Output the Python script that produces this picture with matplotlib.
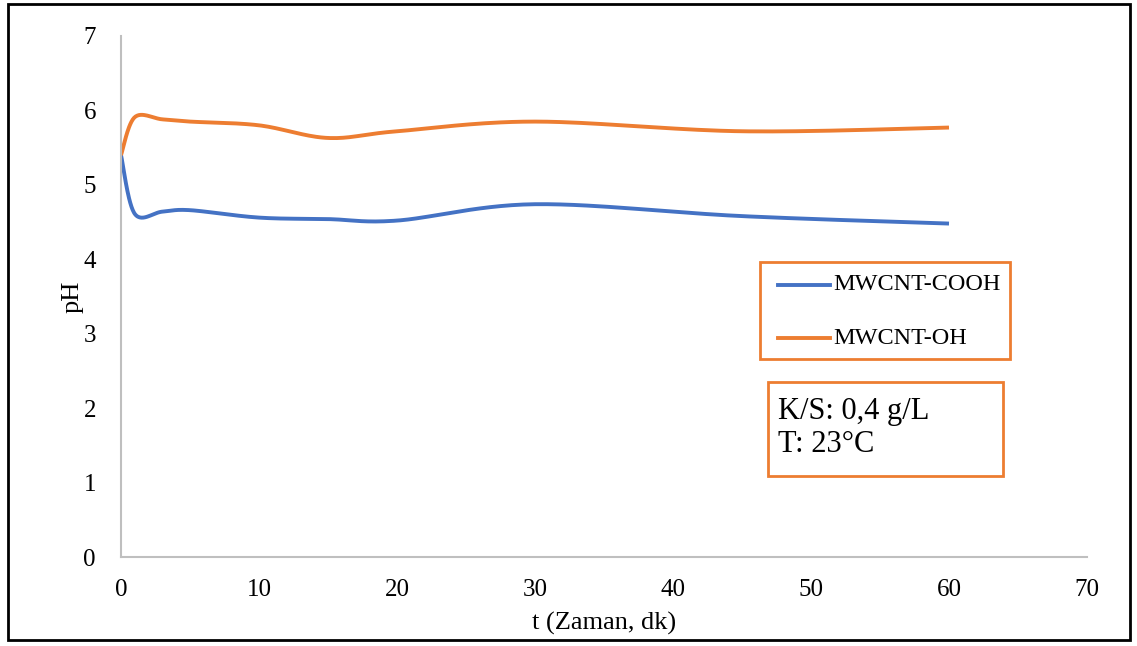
import numpy as np
import matplotlib.pyplot as plt
from matplotlib.patches import Rectangle
from matplotlib.lines import Line2D

# data
t = [0, 1, 3, 5, 10, 15, 20, 30, 45, 60]
ph_cooh = [5.40, 4.61, 4.64, 4.66, 4.56, 4.54, 4.52, 4.74, 4.58, 4.48]
ph_oh = [5.40, 5.91, 5.88, 5.85, 5.80, 5.63, 5.72, 5.85, 5.72, 5.77]
labels = ['MWCNT-COOH', 'MWCNT-OH']
colors = ['#4472C4', '#ED7D31']


def smooth(x, y, n=30):
    """Excel-like smoothed line (cubic Bezier, 1/6 neighbour tangents)."""
    x = np.asarray(x, float); y = np.asarray(y, float)
    P = np.column_stack([x, y]); m = len(P)
    out = [P[0]]
    s = np.linspace(0, 1, n)[1:, None]
    for i in range(m - 1):
        p0 = P[i - 1] if i > 0 else P[i]
        p3 = P[i + 2] if i + 2 < m else P[i + 1]
        c1 = P[i] + (P[i + 1] - p0) / 6
        c2 = P[i + 1] - (p3 - P[i]) / 6
        seg = ((1 - s)**3 * P[i] + 3 * (1 - s)**2 * s * c1
               + 3 * (1 - s) * s**2 * c2 + s**3 * P[i + 1])
        out.extend(seg)
    out = np.array(out)
    return out[:, 0], out[:, 1]


plt.rcParams['font.family'] = ['Liberation Serif', 'DejaVu Serif']
fig = plt.figure(figsize=(11.37, 6.46), dpi=100)
ax = fig.add_axes([121/1137, 1-557/646, (1087-121)/1137, (557-36)/646])

for y, c in zip([ph_cooh, ph_oh], colors):
    xs, ys = smooth(t, y)
    ax.plot(xs, ys, color=c, lw=2.8, solid_capstyle='butt')

ax.set_xlim(0, 70); ax.set_ylim(0, 7)
ax.set_xticks(range(0, 71, 10)); ax.set_yticks(range(0, 8))
ax.tick_params(length=0, labelsize=18, colors='#000000')
ax.tick_params(axis='x', pad=16)
ax.tick_params(axis='y', pad=18)
for s in ['top', 'right']:
    ax.spines[s].set_visible(False)
for s in ['left', 'bottom']:
    ax.spines[s].set_color('#BFBFBF'); ax.spines[s].set_linewidth(1.5)
ax.set_xlabel('t (Zaman, dk)', fontsize=19, labelpad=8)
ax.set_ylabel('pH', fontsize=19, labelpad=0)

# legend box
fig.patches.append(Rectangle((760/1137, 1-359/646), 250/1137, 97/646,
                             transform=fig.transFigure, fill=False,
                             ec='#ED7D31', lw=2))
for i, (lab, c) in enumerate(zip(labels, colors)):
    yy = 1 - (285 + i*53)/646
    fig.lines.append(Line2D([778/1137, 830/1137], [yy, yy], color=c, lw=2.8,
                            transform=fig.transFigure))
    fig.text(833/1137, yy, lab, fontsize=17.5, va='center', ha='left')

# conditions box
fig.patches.append(Rectangle((768/1137, 1-476/646), 235/1137, 94/646,
                             transform=fig.transFigure, fill=False,
                             ec='#ED7D31', lw=2))
fig.text(778/1137, 1-411/646, 'K/S: 0,4 g/L', fontsize=22, va='center')
fig.text(778/1137, 1-445/646, 'T: 23°C', fontsize=22, va='center')

# outer frame
fig.patches.append(Rectangle((8/1137, 6/646), 1122/1137, 636/646,
                             transform=fig.transFigure, fill=False,
                             ec='black', lw=2))

fig.savefig('out.png', dpi=100)
